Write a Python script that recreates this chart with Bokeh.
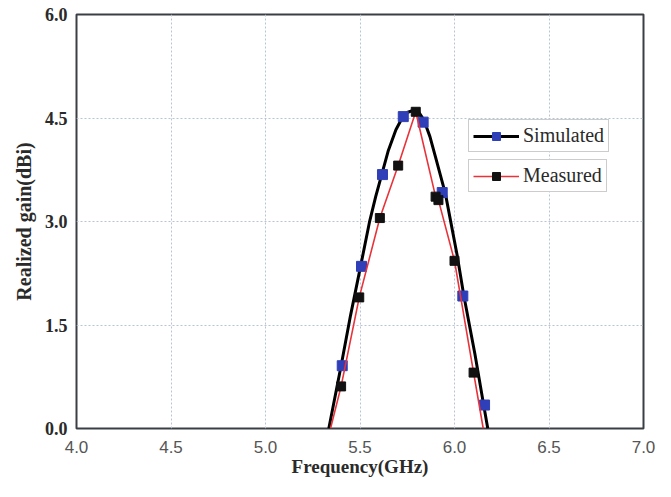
from bokeh.plotting import figure
from bokeh.models import FixedTicker, Legend, LegendItem, Range1d
from bokeh.embed import file_html
from bokeh.resources import INLINE

# ---- data ----
x_ticks = [4.0, 4.5, 5.0, 5.5, 6.0, 6.5, 7.0]
y_ticks = [0.0, 1.5, 3.0, 4.5, 6.0]

sim_curve_x = [5.335, 5.400, 5.450, 5.503, 5.550, 5.583, 5.616, 5.650, 5.690, 5.723,
               5.750, 5.780, 5.810, 5.838, 5.870, 5.900, 5.952, 6.014, 6.049, 6.108,
               6.155, 6.176]
sim_curve_y = [0.00, 0.91, 1.64, 2.35, 2.99, 3.36, 3.69, 4.03, 4.33, 4.50,
               4.58, 4.61, 4.59, 4.47, 4.23, 3.93, 3.40, 2.51, 1.93, 1.08,
               0.33, 0.00]

sim_x = [5.406, 5.508, 5.619, 5.729, 5.834, 5.935, 6.044, 6.159]
sim_y = [0.91, 2.35, 3.68, 4.52, 4.44, 3.42, 1.92, 0.34]

meas_line_x = [5.344, 5.400, 5.496, 5.605, 5.702, 5.795, 5.900, 5.915, 6.000, 6.101, 6.152]
meas_line_y = [0.00, 0.61, 1.90, 3.05, 3.81, 4.59, 3.36, 3.31, 2.43, 0.81, 0.00]

meas_x = [5.400, 5.496, 5.605, 5.702, 5.795, 5.900, 5.915, 6.000, 6.101]
meas_y = [0.61, 1.90, 3.05, 3.81, 4.59, 3.36, 3.31, 2.43, 0.81]

p = figure(width=655, height=481, output_backend="svg", toolbar_location=None,
           x_range=Range1d(4.0, 7.0), y_range=Range1d(0.0, 6.0),
           min_border_left=76, min_border_right=12, min_border_top=14, min_border_bottom=53)
p.background_fill_color = "white"
p.border_fill_color = "white"
p.outline_line_color = "#3a3f44"
p.outline_line_width = 2

# grid
for g in (p.xgrid, p.ygrid):
    g.grid_line_color = "#b9c3d6"
    g.grid_line_dash = "2 2"
    g.grid_line_width = 1
p.xgrid.ticker = FixedTicker(ticks=x_ticks)
p.ygrid.ticker = FixedTicker(ticks=y_ticks)

# axes
p.xaxis.ticker = FixedTicker(ticks=x_ticks)
p.yaxis.ticker = FixedTicker(ticks=y_ticks)
p.xaxis.major_label_overrides = {t: f"{t:.1f}" for t in x_ticks}
p.yaxis.major_label_overrides = {t: f"{t:.1f}" for t in y_ticks}
for ax in (p.xaxis, p.yaxis):
    ax.axis_line_color = None
    ax.major_tick_line_color = None
    ax.minor_tick_line_color = None
    ax.major_tick_out = 0
    ax.major_tick_in = 0
    ax.axis_label_text_font = "Liberation Serif"
    ax.axis_label_text_font_style = "bold"
    ax.axis_label_text_font_size = "19px"
    ax.axis_label_text_color = "#2a2a2a"

p.xaxis.axis_label = "Frequency(GHz)"
p.xaxis.major_label_text_font = "Liberation Sans"
p.xaxis.major_label_text_font_size = "17px"
p.xaxis.major_label_text_color = "#555555"
p.xaxis.major_label_standoff = 12
p.xaxis.axis_label_standoff = 0

p.yaxis.axis_label = "Realized gain(dBi)"
p.yaxis.axis_label_text_font_size = "20px"
p.yaxis.major_label_text_font = "Liberation Serif"
p.yaxis.major_label_text_font_style = "bold"
p.yaxis.major_label_text_font_size = "18px"
p.yaxis.major_label_text_color = "#2a2a2a"
p.yaxis.major_label_standoff = 9
p.yaxis.axis_label_standoff = 7

# series
sim_line = p.line(sim_curve_x, sim_curve_y, line_color="black", line_width=3)
sim_pts = p.scatter(sim_x, sim_y, marker="square", size=10, fill_color="#2f3fb8",
                    line_color="#2f3fb8")
meas_line = p.line(meas_line_x, meas_line_y, line_color="#e8333a", line_width=1.6)
meas_pts = p.scatter(meas_x, meas_y, marker="square", size=9, fill_color="#111111",
                     line_color="#111111")

def make_legend(label, renderers, loc):
    lg = Legend(items=[LegendItem(label=label, renderers=renderers)], location=loc,
                label_text_font="Liberation Serif", label_text_font_size="20px",
                label_text_color="#2a2a2a",
                glyph_width=46, glyph_height=20, label_height=20,
                label_standoff=4, padding=4, spacing=0, margin=0,
                border_line_color="#9a9a9a", border_line_width=1.5,
                background_fill_color="white", background_fill_alpha=1.0)
    return lg

p.add_layout(make_legend("Simulated", [sim_line, sim_pts], (392, 276)))
p.add_layout(make_legend("Measured", [meas_line, meas_pts], (392, 236)))

open("out.html", "w").write(file_html(p, INLINE))
